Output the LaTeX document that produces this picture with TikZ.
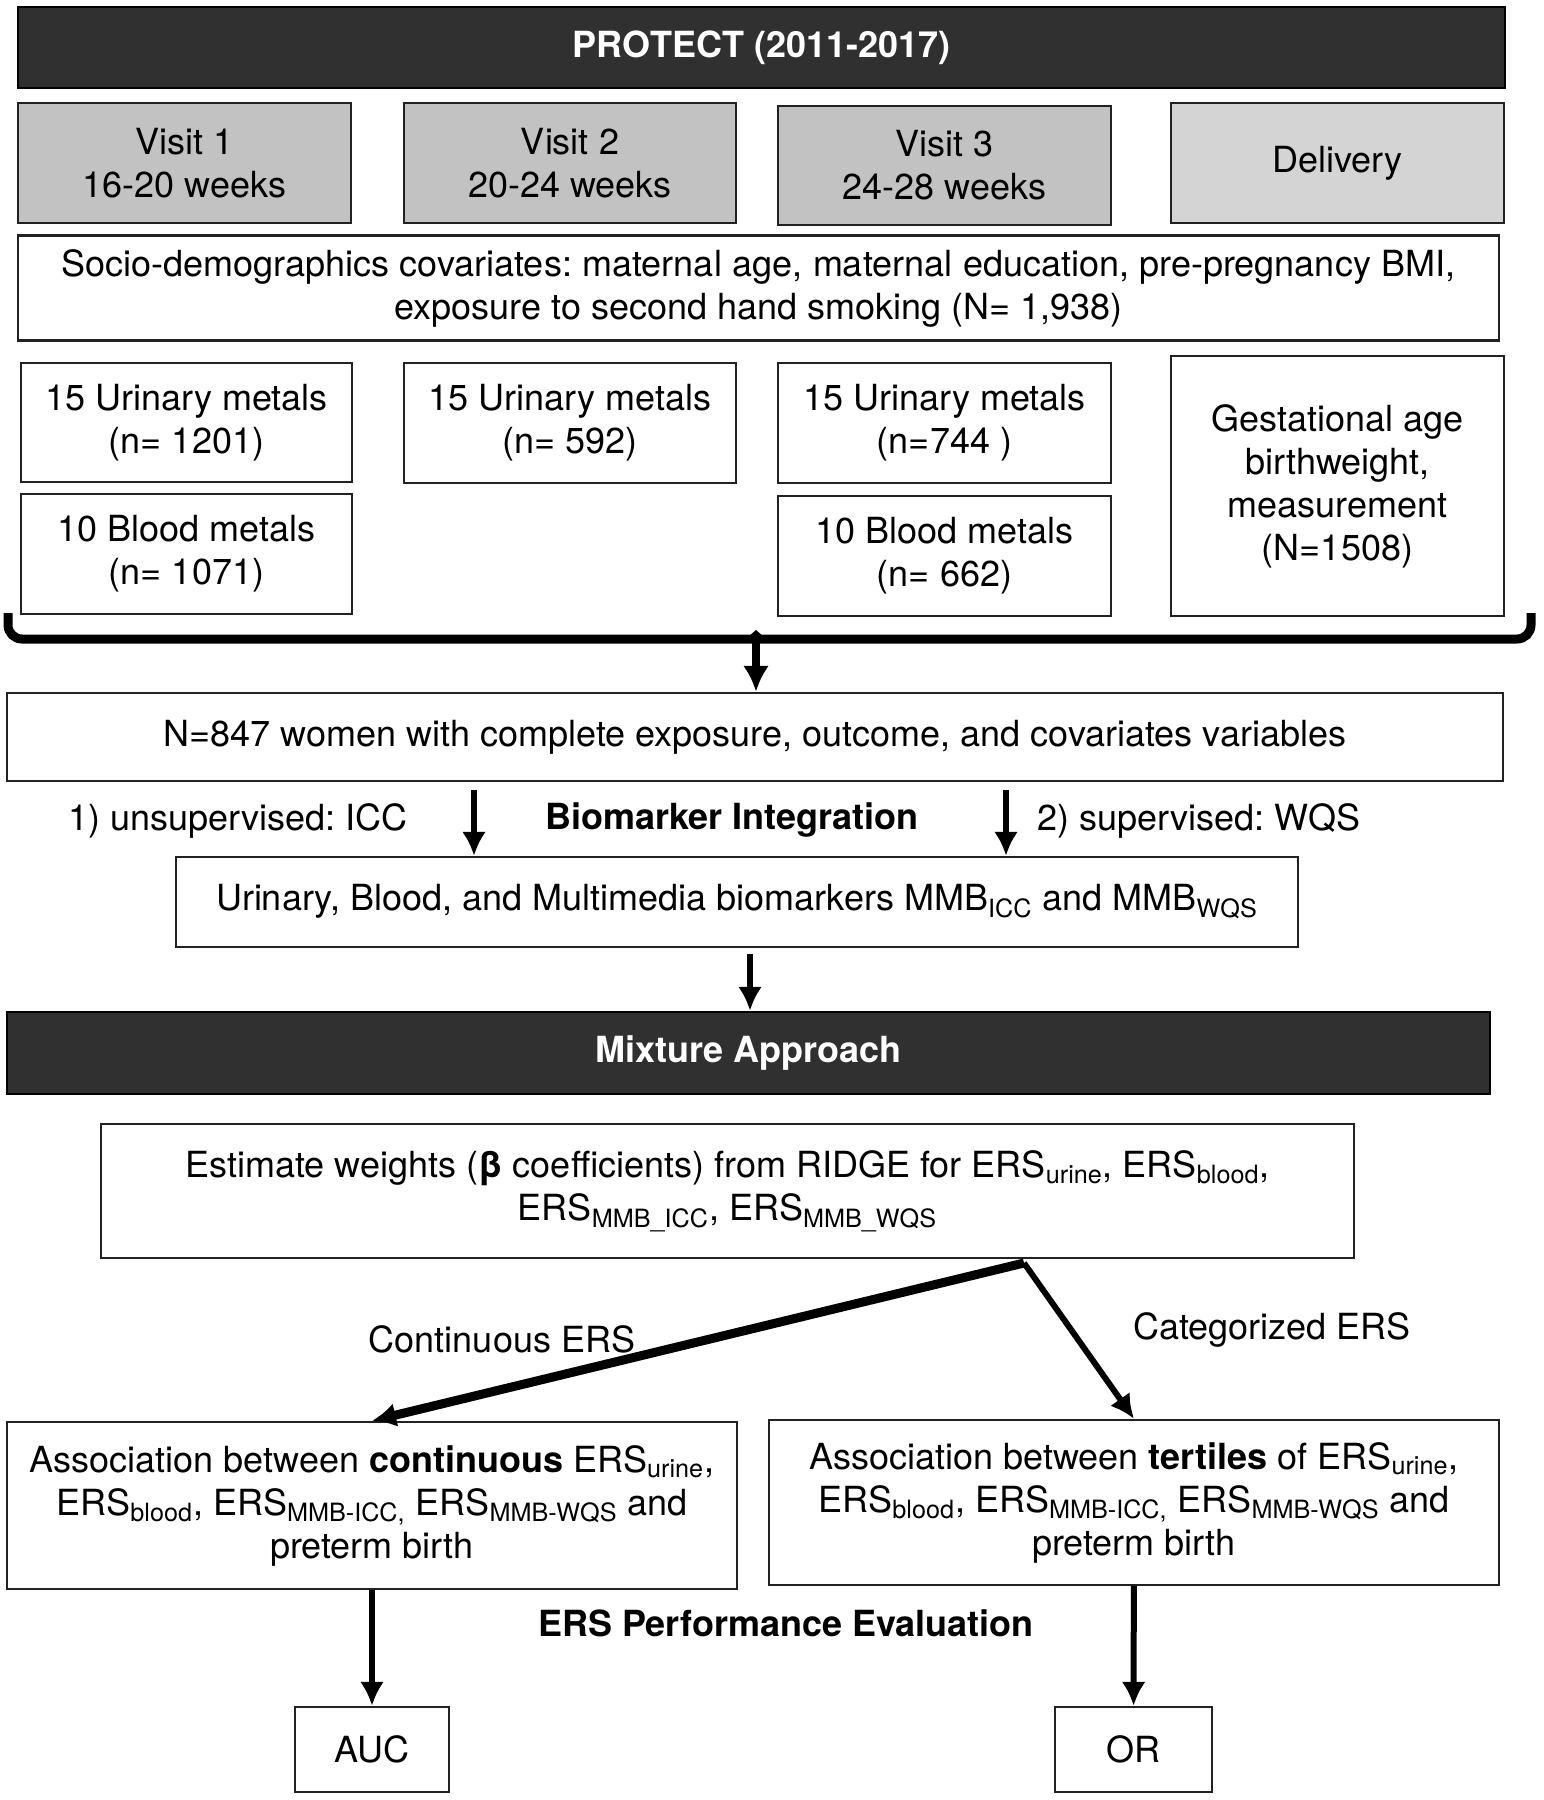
\documentclass[tikz,border=0pt]{standalone}
\usepackage{fontspec}
\setmainfont{TeX Gyre Heros}
\usepackage{xcolor}
\usepackage{tikz}
\usetikzlibrary{arrows.meta}
\definecolor{bannergray}{HTML}{303030}
\definecolor{visitgray}{HTML}{C2C2C2}
\definecolor{deliverygray}{HTML}{D4D4D4}
\definecolor{edgegray}{HTML}{222222}
\frenchspacing

\begin{document}
\begin{tikzpicture}[x=0.5pt,y=-0.5pt,
        every node/.style={font=\fontsize{18}{21.5}\selectfont},
        bold/.style={font=\fontsize{18}{21.5}\selectfont\bfseries},
        wh/.style 2 args={minimum width=#1*0.5pt,minimum height=#2*0.5pt},
        box/.style={draw=edgegray,line width=1.2pt,fill=white,align=center,inner sep=0pt},
        banner/.style={box,bold,fill=bannergray,draw=black,text=white},
        visit/.style={box,fill=visitgray},
        flow/.style={line width=3pt,-{Latex[length=12pt,width=12pt]}}]
        \useasboundingbox (0,0) rectangle (1543,1800);

        \node[banner,wh={1487}{81}] (protect) at (761.5,47.5) {PROTECT (2011-2017)};
        \node[visit,wh={333}{120}] (visit1) at (184.5,163) {Visit 1\\16-20 weeks};
        \node[visit,wh={332}{120}] (visit2) at (570,163) {Visit 2\\20-24 weeks};
        \node[visit,wh={333}{119}] (visit3) at (944.5,165.5) {Visit 3\\24-28 weeks};
        \node[visit,fill=deliverygray,wh={333}{120}] (delivery) at (1337.5,163) {Delivery};
        \node[box,wh={1481}{105}] (socio) at (758.5,288) {\makebox[697pt][s]{Socio-demographics covariates: maternal age, maternal education, pre-pregnancy BMI,}\\exposure to second hand smoking (N= 1,938)};

        \node[box,wh={331}{119}] (urine1) at (186.5,422.5) {15 Urinary metals\\(n= 1201)};
        \node[box,wh={332}{120}] (urine2) at (570,423) {15 Urinary metals\\(n= 592)};
        \node[box,wh={333}{120}] (urine3) at (944.5,423) {15 Urinary metals\\(n=744 )};
        \node[box,wh={333}{260}] (gest) at (1337.5,486) {Gestational age\\birthweight,\\measurement\\(N=1508)};
        \node[box,wh={331}{120}] (blood1) at (186.5,554) {10 Blood metals\\(n= 1071)};
        \node[box,wh={333}{120}] (blood3) at (944.5,556) {10 Blood metals\\(n= 662)};

        \draw[line width=4.5pt,rounded corners=7pt] (8,613) -- (8,639) -- (1531,639) -- (1531,613);
        \fill (748,637) -- (756,630) -- (764,637) -- cycle;
        \coordinate (bracetip) at (756,639);

        \node[box,wh={1496}{88}] (cohort) at (755,737) {N=847 women with complete exposure, outcome, and covariates variables};
        \draw[flow,line width=4pt,-{Latex[length=13pt,width=13pt]}] (bracetip) -- (bracetip |- cohort.north);

        \node (unsup) at (238,821) {1) unsupervised: ICC};
        \node[bold] (integration) at (732,820) {Biomarker Integration};
        \node (sup) at (1199,821) {2) supervised: WQS};
        \node[box,wh={1122}{90}] (mmb) at (737,902) {Urinary, Blood, and Multimedia biomarkers MMB\textsubscript{ICC} and MMB\textsubscript{WQS}};
        \draw[flow,shorten <=4pt] ([xshift=-140.5pt]cohort.south) -- ([xshift=-140.5pt]cohort.south |- mmb.north);
        \draw[flow,shorten <=4pt] ([xshift=125.5pt]cohort.south) -- ([xshift=125.5pt]cohort.south |- mmb.north);

        \node[banner,wh={1483}{82}] (mixture) at (748.5,1053) {Mixture Approach};
        \draw[flow,shorten <=3pt] ([xshift=6.5pt]mmb.south) -- ([xshift=6.5pt]mmb.south |- mixture.north);

        \node[box,wh={1253}{134}] (estimate) at (727.5,1191) {Estimate weights (\textbf{β} coefficients) from RIDGE for ERS\textsubscript{urine}, ERS\textsubscript{blood},\\ERS\textsubscript{MMB\_ICC}, ERS\textsubscript{MMB\_WQS}};
        \coordinate (split) at (1024,1263);

        \node[box,wh={730}{167}] (assocC) at (372,1505.5) {Association between \textbf{continuous} ERS\textsubscript{urine},\\ERS\textsubscript{blood}, ERS\textsubscript{MMB-ICC,} ERS\textsubscript{MMB-WQS} and\\preterm birth};
        \node[box,wh={730}{165}] (assocT) at (1134,1502.5) {Association between \textbf{tertiles} of ERS\textsubscript{urine},\\ERS\textsubscript{blood}, ERS\textsubscript{MMB-ICC,} ERS\textsubscript{MMB-WQS} and\\preterm birth};
        \draw[flow,line width=4.5pt] (split) -- (assocC.north);
        \draw[flow] (split) -- (assocT.north);
        \node (contlabel) at (502,1339) {Continuous ERS};
        \node (catlabel) at (1272,1330) {Categorized ERS};

        \node[bold] (evaluation) at (786,1623) {ERS Performance Evaluation};
        \node[box,wh={154}{85}] (auc) at (372,1749.5) {AUC};
        \node[box,wh={157}{85}] (or) at (1133.5,1749.5) {OR};
        \draw[flow] (assocC) -- (auc);
        \draw[flow] (assocT) -- (or);
    \end{tikzpicture}
\end{document}
